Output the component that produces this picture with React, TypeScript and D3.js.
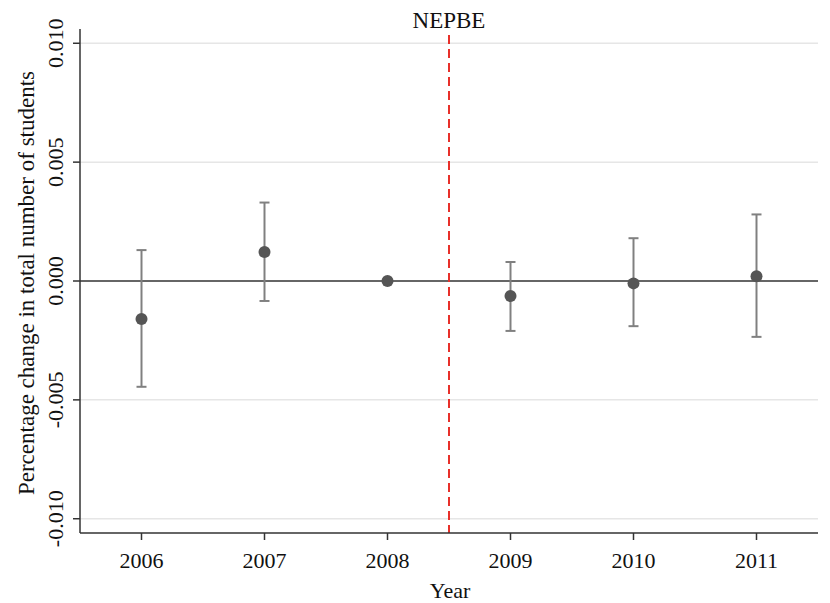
import React from "react";
import * as d3 from "d3";

const years = [2006, 2007, 2008, 2009, 2010, 2011];
const estimates = [-0.0016, 0.00122, 0, -0.00063, -0.0001, 0.0002];
const ciLow = [-0.00445, -0.00084, null, -0.0021, -0.0019, -0.00235];
const ciHigh = [0.0013, 0.0033, null, 0.0008, 0.0018, 0.0028];
const yTicks = [-0.01, -0.005, 0, 0.005, 0.01];
const eventYear = 2008.5;
const eventLabel = "NEPBE";

const W = 830, H = 603;
const left = 80, right = 818, top = 29, bottom = 533;

export default function App() {
  const x = d3.scaleLinear().domain([2005.5, 2011.5]).range([left, right]);
  const y = d3.scaleLinear().domain([-0.0106, 0.0106]).range([bottom, top]);
  const font = "'Liberation Serif', 'Times New Roman', serif";
  const axisColor = "#333";
  return (
    <svg width={W} height={H} style={{ position: "absolute", left: 0, top: 0, background: "#fff" }} fontFamily={font}>
      <rect x={0} y={0} width={W} height={H} fill="#fff" />
      {/* grid */}
      {yTicks.filter(t => t !== 0).map(t => (
        <line key={t} x1={left} x2={right} y1={y(t)} y2={y(t)} stroke="#e6e6e6" strokeWidth={1.5} />
      ))}
      {/* zero line */}
      <line x1={left} x2={right} y1={y(0)} y2={y(0)} stroke="#333" strokeWidth={1.5} />
      {/* event line */}
      <line x1={x(eventYear)} x2={x(eventYear)} y1={35} y2={bottom} stroke="#e8302a" strokeWidth={2} strokeDasharray="9,5" />
      <text x={x(eventYear)} y={28} textAnchor="middle" fontSize={23} fill="#111">{eventLabel}</text>
      {/* CIs */}
      {years.map((yr, i) => ciLow[i] == null ? null : (
        <g key={yr} stroke="#808080" strokeWidth={2}>
          <line x1={x(yr)} x2={x(yr)} y1={y(ciLow[i] as number)} y2={y(ciHigh[i] as number)} />
          <line x1={x(yr) - 5} x2={x(yr) + 5} y1={y(ciLow[i] as number)} y2={y(ciLow[i] as number)} />
          <line x1={x(yr) - 5} x2={x(yr) + 5} y1={y(ciHigh[i] as number)} y2={y(ciHigh[i] as number)} />
        </g>
      ))}
      {years.map((yr, i) => (
        <circle key={yr} cx={x(yr)} cy={y(estimates[i])} r={6} fill="#555" />
      ))}
      {/* axes */}
      <line x1={left} x2={left} y1={top} y2={bottom} stroke={axisColor} strokeWidth={1.5} />
      <line x1={left} x2={right} y1={bottom} y2={bottom} stroke={axisColor} strokeWidth={1.5} />
      {yTicks.map(t => (
        <g key={t}>
          <line x1={left - 7} x2={left} y1={y(t)} y2={y(t)} stroke={axisColor} strokeWidth={1.5} />
          <text transform={`translate(${left - 17},${y(t)}) rotate(-90)`} textAnchor="middle" fontSize={22} fill="#111">
            {d3.format(".3f")(t).replace("−", "-")}
          </text>
        </g>
      ))}
      {years.map(yr => (
        <g key={yr}>
          <line x1={x(yr)} x2={x(yr)} y1={bottom} y2={bottom + 7} stroke={axisColor} strokeWidth={1.5} />
          <text x={x(yr)} y={568} textAnchor="middle" fontSize={22} fill="#111">{yr}</text>
        </g>
      ))}
      <text x={450} y={598} textAnchor="middle" fontSize={22} fill="#111">Year</text>
      <text transform={`translate(34,283) rotate(-90)`} textAnchor="middle" fontSize={23} fill="#111">
        Percentage change in total number of students
      </text>
    </svg>
  );
}
